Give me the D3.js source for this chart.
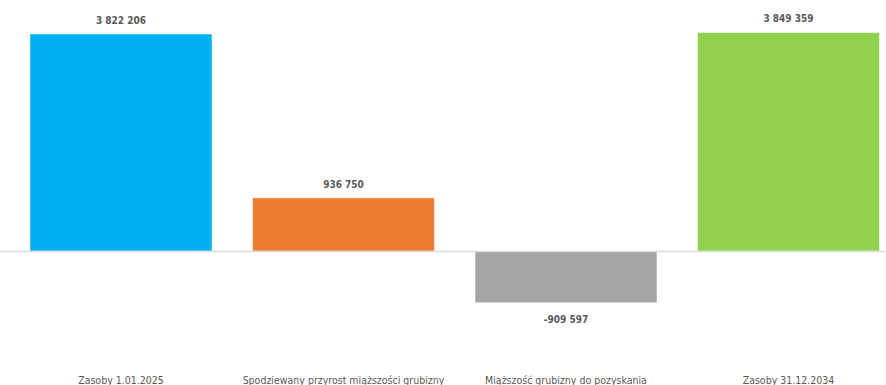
<!DOCTYPE html>
<html><head><meta charset="utf-8">
<script src="https://cdn.jsdelivr.net/npm/d3@7"></script>
<style>
html,body{margin:0;padding:0;background:#fff;}
svg{display:block;}
text{font-family:"Liberation Sans Narrow","DejaVu Sans Condensed","Liberation Sans",sans-serif;}
</style></head>
<body>
<svg id="chart" width="886" height="385"></svg>
<script>
const categories = ["Zasoby 1.01.2025","Spodziewany przyrost miąższości grubizny","Miąższość grubizny do pozyskania","Zasoby 31.12.2034"];
const values = [3822206, 936750, -909597, 3849359];
const colors = ["#00B0F0","#ED7D31","#A5A5A5","#92D050"];
const yDomain = [-1000000, 4000000];

const svg = d3.select("#chart");
const x = d3.scaleBand().domain(categories).range([9.75, 899.75]).paddingInner(0.182).paddingOuter(0.091);
const y = d3.scaleLinear().domain(yDomain).range([307.8, 23.9]);
const fmt = v => (v < 0 ? "-" : "") + d3.format(",")(Math.abs(v)).replace(/,/g, " ");

svg.selectAll("rect.bar").data(values).join("rect")
  .attr("class","bar")
  .attr("x",(d,i)=>x(categories[i]))
  .attr("width",x.bandwidth())
  .attr("y",d=>y(Math.max(0,d)))
  .attr("height",d=>Math.abs(y(d)-y(0)))
  .attr("fill",(d,i)=>colors[i])
  .attr("stroke","#ffffff").attr("stroke-opacity",0.5).attr("stroke-width",1);

svg.append("line")
  .attr("x1",0).attr("x2",886)
  .attr("y1",Math.round(y(0))+0.5).attr("y2",Math.round(y(0))+0.5)
  .attr("stroke","#D9D9D9").attr("stroke-width",1.5);

svg.selectAll("text.val").data(values).join("text")
  .attr("class","val")
  .attr("x",(d,i)=>x(categories[i])+x.bandwidth()/2)
  .attr("y",d=> d>=0 ? y(d)-10 : y(d)+20)
  .attr("text-anchor","middle")
  .attr("font-size","10px").attr("font-weight","bold")
  .attr("fill","#595959")
  .text(fmt);

svg.selectAll("text.cat").data(categories).join("text")
  .attr("class","cat")
  .attr("x",d=>x(d)+x.bandwidth()/2)
  .attr("y",384)
  .attr("text-anchor","middle")
  .attr("font-size","10.5px")
  .attr("fill","#595959")
  .text(d=>d);
</script>
</body></html>
